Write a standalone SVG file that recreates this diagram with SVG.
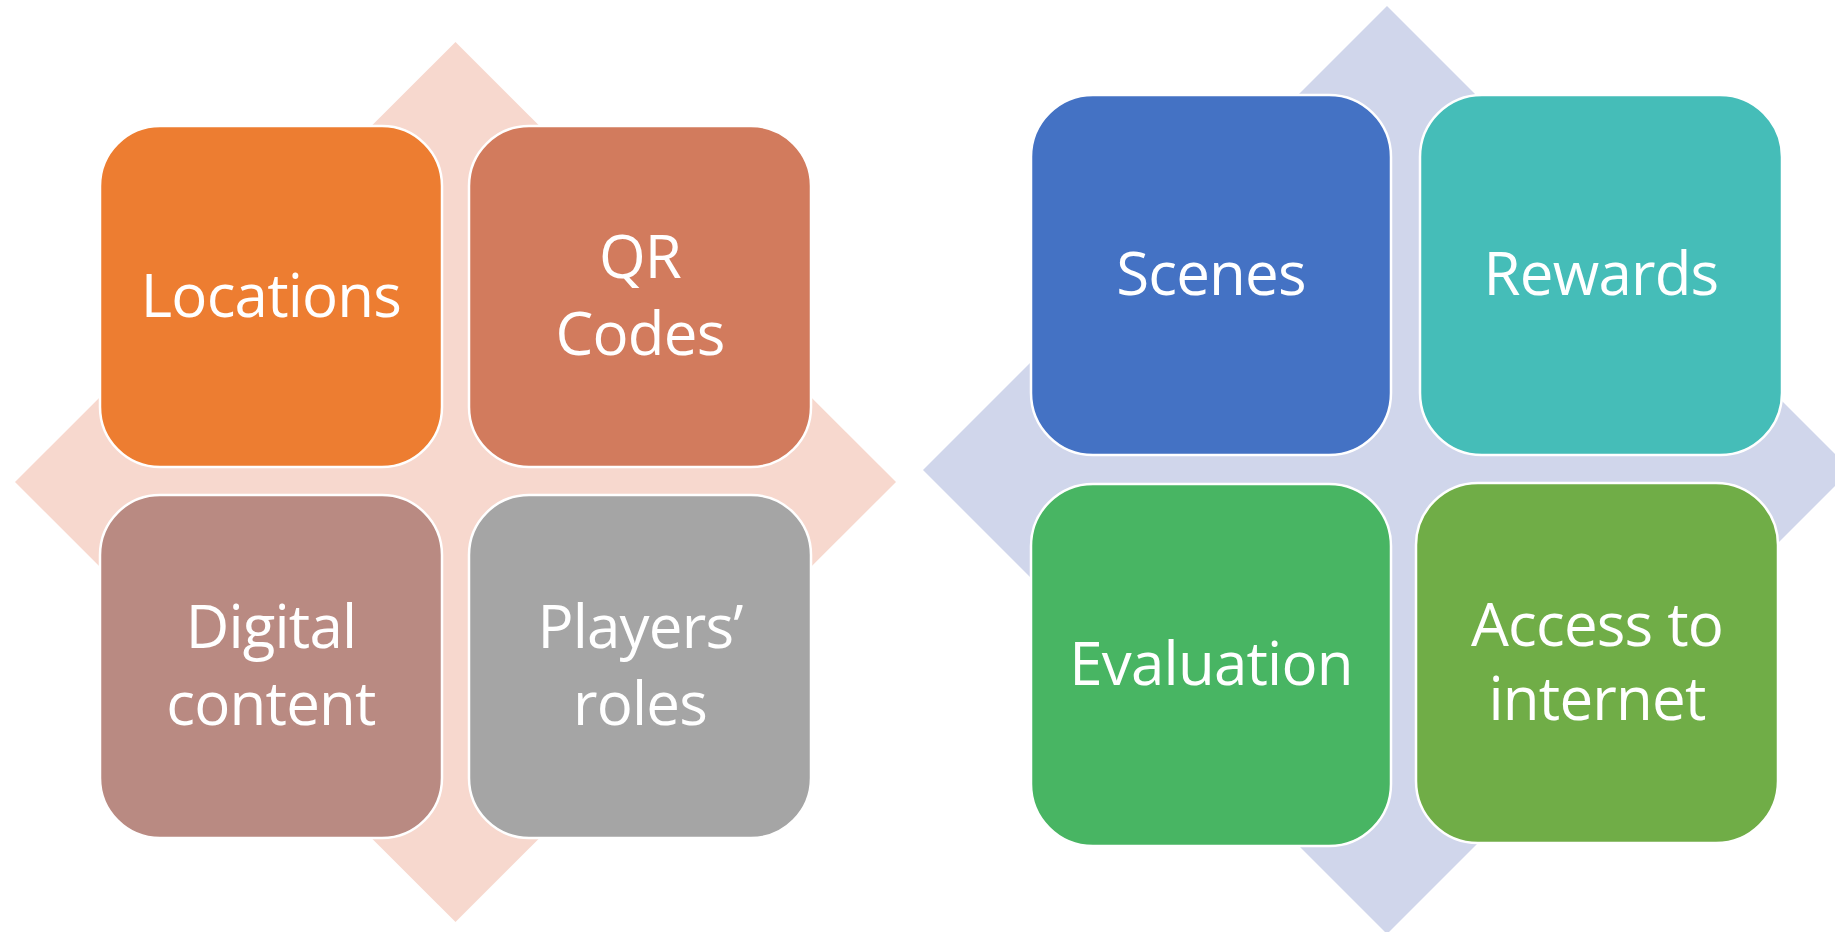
<svg xmlns="http://www.w3.org/2000/svg" width="1835" height="932" viewBox="0 0 1835 932">
  <style>
    .box { stroke: #ffffff; stroke-width: 2.5; }
    .lbl { font-family: "Open Sans", "Noto Sans", "Liberation Sans", sans-serif; font-size: 60px; letter-spacing: -0.8px; fill: #ffffff; text-anchor: middle; }
  </style>
  <rect width="1835" height="932" fill="#ffffff"/>

  <!-- backdrop diamonds -->
  <g id="backdrops">
    <polygon points="455.5,42 896,482 455.5,922 15,482" fill="#F7D8CE"/>
    <polygon points="1387,6 1851,470 1387,934 923,470" fill="#D0D6EB"/>
  </g>

  <!-- left cluster -->
  <g id="locations">
    <rect class="box" x="100" y="126" width="342" height="341" rx="60" fill="#ED7D31"/>
    <text class="lbl" x="271" y="317">Locations</text>
  </g>
  <g id="qr-codes">
    <rect class="box" x="469" y="126" width="342" height="341" rx="60" fill="#D27B5D"/>
    <text class="lbl" x="640" y="278">QR</text>
    <text class="lbl" x="640" y="355">Codes</text>
  </g>
  <g id="digital-content">
    <rect class="box" x="100" y="495" width="342" height="343" rx="60" fill="#B98A82"/>
    <text class="lbl" x="271" y="648">Digital</text>
    <text class="lbl" x="271" y="725">content</text>
  </g>
  <g id="players-roles">
    <rect class="box" x="469" y="495" width="342" height="343" rx="60" fill="#A5A5A5"/>
    <text class="lbl" x="640" y="648">Players’</text>
    <text class="lbl" x="640" y="725">roles</text>
  </g>

  <!-- right cluster -->
  <g id="scenes">
    <rect class="box" x="1031" y="95" width="360" height="360" rx="62" fill="#4472C4"/>
    <text class="lbl" x="1211" y="295">Scenes</text>
  </g>
  <g id="rewards">
    <rect class="box" x="1420" y="95" width="362" height="360" rx="62" fill="#45BDB8"/>
    <text class="lbl" x="1601" y="295">Rewards</text>
  </g>
  <g id="evaluation">
    <rect class="box" x="1031" y="484" width="360" height="362" rx="62" fill="#48B563"/>
    <text class="lbl" x="1211" y="685">Evaluation</text>
  </g>
  <g id="access-to-internet">
    <rect class="box" x="1416" y="483" width="362" height="360" rx="62" fill="#70AD47"/>
    <text class="lbl" x="1597" y="646">Access to</text>
    <text class="lbl" x="1597" y="720">internet</text>
  </g>

  <g id="connectors"/>
</svg>
